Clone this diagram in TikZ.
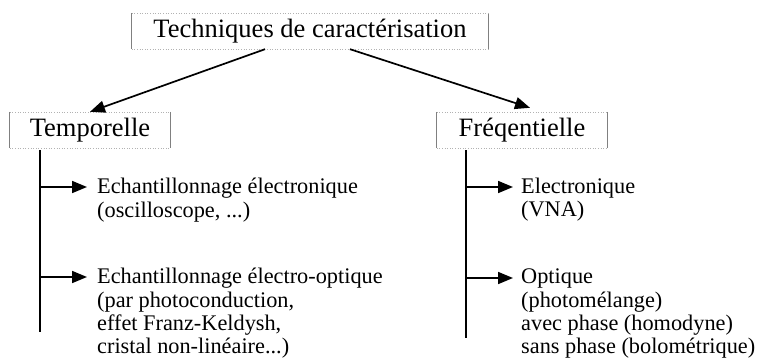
\documentclass[tikz,border=0pt]{standalone}
\usepackage{fontspec}
\setmainfont{Liberation Serif}
\usetikzlibrary{arrows.meta,calc}

\tikzset{
  head/.style={font=\fontsize{26.5}{28}\selectfont, minimum height=36pt, inner sep=0pt},
  item/.style={font=\fontsize{22.3}{23.3}\selectfont, align=left, anchor=north west, inner sep=0pt},
  link/.style={line width=1.7pt, -{Triangle[length=15pt,width=12pt]}},
  rail/.style={line width=1.7pt},
}
\newcommand{\cadre}[1]{%
  \draw[gray, line width=0.8pt] (#1.north west) -- (#1.south west) (#1.north east) -- (#1.south east);
  \draw[gray!60, dotted, line width=0.6pt] (#1.north west) -- (#1.north east) (#1.south west) -- (#1.south east);}

\begin{document}
\begin{tikzpicture}[x=1pt,y=-1pt]
    \useasboundingbox (0,0) rectangle (761,362);
    \node[head, minimum width=356pt] (tech) at (310,31) {Techniques de caractérisation};
    \node[head, minimum width=160pt] (temp) at (90,130) {Temporelle};
    \node[head, minimum width=170pt] (freq) at (522,130) {Fréqentielle};
    \cadre{tech}
    \cadre{temp}
    \cadre{freq}
    \draw[link] ($(tech.south)+(-45,0)$) -- (temp.north);
    \draw[link] ($(tech.south)+(40,0)$) -- ($(freq.north)+(8,-4)$);
    \coordinate (tl) at (40,150);
    \coordinate (fl) at (466,150);
    \coordinate (ta) at (87,187);
    \coordinate (tb) at (87,277);
    \coordinate (fa) at (513,187);
    \coordinate (fb) at (513,278);
    \draw[rail] (tl) -- (40,332);
    \draw[rail] (fl) -- (466,338);
    \draw[link] (ta -| tl) -- (ta);
    \draw[link] (tb -| tl) -- (tb);
    \draw[link] (fa -| fl) -- (fa);
    \draw[link] (fb -| fl) -- (fb);
    \node[item] (ech1) at ($(ta)+(10,-9)$) {Echantillonnage électronique\\(oscilloscope, ...)};
    \node[item] (ech2) at ($(tb)+(10,-9)$) {Echantillonnage électro-optique\\(par photoconduction,\\effet Franz-Keldysh,\\cristal non-linéaire...)};
    \node[item] (elec) at ($(fa)+(8,-9)$) {Electronique\\(VNA)};
    \node[item] (opt) at ($(fb)+(8,-9)$) {Optique\\(photomélange)\\avec phase (homodyne)\\sans phase (bolométrique)};
\end{tikzpicture}
\end{document}
